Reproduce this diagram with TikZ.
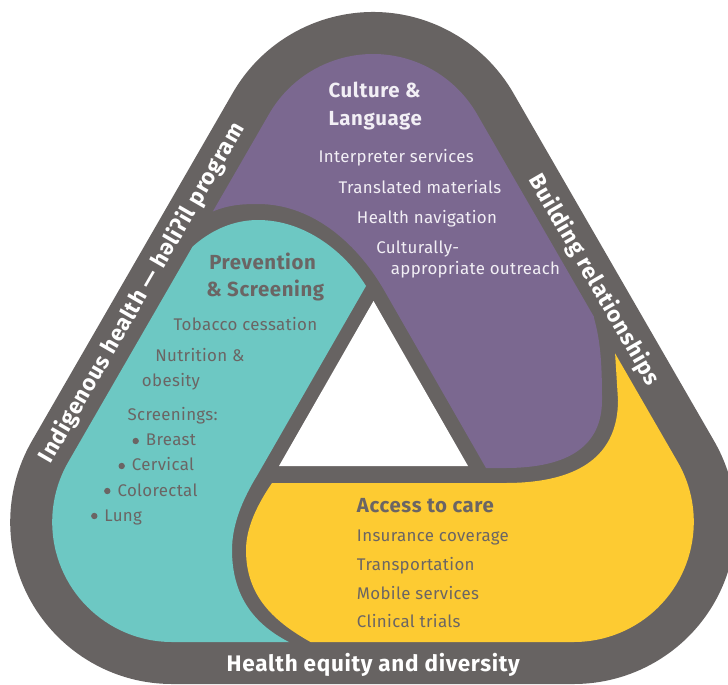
\documentclass[tikz,border=0pt]{standalone}
\usepackage{fontspec}
\setmainfont{Fira Sans}
\usepackage{tikz}

\definecolor{framegray}{HTML}{676362}
\definecolor{lobepurple}{HTML}{7B6890}
\definecolor{lobeteal}{HTML}{6DC8C3}
\definecolor{lobeyellow}{HTML}{FDCB32}
\definecolor{textgray}{HTML}{6B6564}
\definecolor{purpletext}{HTML}{F2EFF5}

\begin{document}
\begin{tikzpicture}[x=0.025cm,y=0.025cm,
  lobehead/.style={anchor=base west,inner sep=0pt,font=\fontsize{14.5}{17}\selectfont\bfseries\addfontfeatures{LetterSpace=3}},
  lobeitem/.style={anchor=base west,inner sep=0pt,font=\fontsize{12}{14}\selectfont\addfontfeatures{LetterSpace=2}},
  bandlabel/.style={inner sep=0pt,text=white,font=\fontsize{16}{18}\selectfont\bfseries\addfontfeatures{LetterSpace=3}},
  bullet/.style={fill=textgray}]
  \useasboundingbox (0,0) rectangle (728,-684);
  \clip (0,0) rectangle (728,-684);

  \fill[framegray] (232.7,-93) arc[start angle=150,end angle=30,radius=162]
    -- (714.1,-441) arc[start angle=30,end angle=-90,radius=162]
    -- (172.2,-684) arc[start angle=-90,end angle=-210,radius=162] -- cycle;

  \begin{scope}
    \clip (269.1,-114) arc[start angle=150,end angle=30,radius=120]
      -- (677.7,-462) arc[start angle=30,end angle=-90,radius=120]
      -- (172.2,-642) arc[start angle=-90,end angle=-210,radius=120] -- cycle;

    \fill[lobepurple] (150,0) -- (150,-150) -- (205,-215)
      .. controls (225,-205) and (240,-204) .. (258,-204)
      .. controls (310,-204) and (355,-240) .. (384,-290)
      -- (486,-468) -- (505,-468)
      .. controls (570,-468) and (602,-445) .. (602,-400)
      .. controls (602,-360) and (600,-340) .. (594,-318)
      -- (640,-250) -- (660,0) -- cycle;

    \fill[lobeteal] (-50,-700) -- (-50,-262) -- (178,-262)
      .. controls (200,-235) and (228,-220) .. (258,-220)
      .. controls (305,-220) and (345,-252) .. (366,-286)
      -- (258,-474)
      .. controls (242,-500) and (232,-525) .. (232,-550)
      .. controls (232,-600) and (258,-630) .. (302,-648)
      -- (302,-700) -- cycle;

    \fill[lobeyellow] (318,-646) -- (318,-700) -- (800,-700) -- (800,-300)
      -- (608,-300) -- (615,-352) -- (618,-400)
      .. controls (618,-455) and (580,-483) .. (505,-483)
      -- (272,-483)
      .. controls (257,-505) and (246,-528) .. (246,-550)
      .. controls (246,-595) and (272,-622) .. (318,-646) -- cycle;
  \end{scope}

  \fill[white] (373.5,-301) -- (279,-466) -- (468,-466) -- cycle;

  \node[lobehead,text=purpletext] (culture) at (328.3,-97.7) {Culture \&};
  \node[lobehead,text=purpletext] (language) at (328.3,-125) {Language};
  \node[lobeitem,text=purpletext] (interpreter) at (318.3,-162.3) {Interpreter services};
  \node[lobeitem,text=purpletext] (translated) at (338.3,-193.3) {Translated materials};
  \node[lobeitem,text=purpletext] (navigation) at (356.7,-223.3) {Health navigation};
  \node[lobeitem,text=purpletext] (culturally) at (376,-253.3) {Culturally-};
  \node[lobeitem,text=purpletext] (outreach) at (390.7,-274.5) {appropriate outreach};

  \node[lobehead,text=textgray] (prevention) at (209,-269.3) {Prevention};
  \node[lobehead,text=textgray] (screening) at (206,-296) {\& Screening};
  \node[lobeitem,text=textgray] (tobacco) at (173.3,-330) {Tobacco cessation};
  \node[lobeitem,text=textgray] (nutrition) at (155,-361.7) {Nutrition \&};
  \node[lobeitem,text=textgray] (obesity) at (141.7,-386.7) {obesity};
  \node[lobeitem,text=textgray] (screenings) at (127.3,-420) {Screenings:};
  \node[lobeitem,text=textgray] (breast) at (145.7,-445.7) {Breast};
  \node[lobeitem,text=textgray] (cervical) at (131.7,-470.7) {Cervical};
  \node[lobeitem,text=textgray] (colorectal) at (117.3,-496) {Colorectal};
  \node[lobeitem,text=textgray] (lung) at (104,-521) {Lung};
  \fill[bullet] (135.7,-441) circle[radius=3.2];
  \fill[bullet] (121.7,-466) circle[radius=3.2];
  \fill[bullet] (107.3,-491) circle[radius=3.2];
  \fill[bullet] (94.3,-516) circle[radius=3.2];

  \node[lobehead,text=textgray] (access) at (356.7,-512.3) {Access to care};
  \node[lobeitem,text=textgray] (insurance) at (356.7,-541) {Insurance coverage};
  \node[lobeitem,text=textgray] (transport) at (356.7,-570) {Transportation};
  \node[lobeitem,text=textgray] (mobile) at (356.7,-599) {Mobile services};
  \node[lobeitem,text=textgray] (trials) at (356.7,-627.7) {Clinical trials};

  \node[bandlabel,anchor=base] (equity) at (373.3,-671.7) {Health equity and diversity};
  \node[bandlabel,rotate=-60] (relations) at (594,-280) {Building relationships};
  \node[bandlabel,rotate=60] (indigenous) at (142,-293) {Indigenous health — həliʔil program};
\end{tikzpicture}
\end{document}
